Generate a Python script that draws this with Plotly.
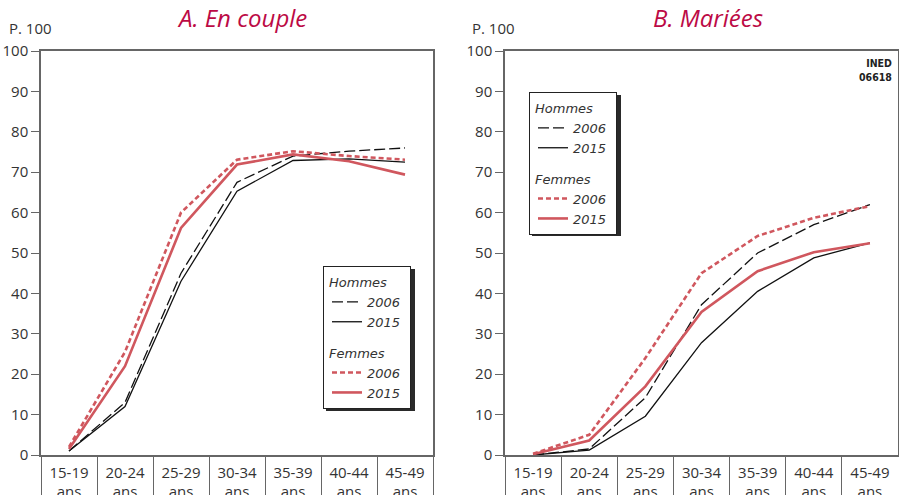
import plotly.graph_objects as go

# Age groups (x categories)
categories = ["15-19<br>ans", "20-24<br>ans", "25-29<br>ans", "30-34<br>ans",
              "35-39<br>ans", "40-44<br>ans", "45-49<br>ans"]

# A. En couple (p. 100)
couple_hommes_2006 = [1, 13, 45, 67.5, 74, 75.2, 76]
couple_hommes_2015 = [1, 12, 43, 65.3, 72.9, 73.3, 72.5]
couple_femmes_2006 = [2, 25.5, 60, 73.1, 75.2, 74, 73.1]
couple_femmes_2015 = [1.5, 22, 56.2, 71.9, 74.4, 72.7, 69.4]

# B. Mariées (p. 100)
maries_hommes_2006 = [0, 1.5, 14.2, 37.2, 50, 57, 62]
maries_hommes_2015 = [0, 1.2, 9.6, 27.8, 40.5, 48.8, 52.5]
maries_femmes_2006 = [0.3, 5, 24, 45, 54.2, 58.7, 61.6]
maries_femmes_2015 = [0.2, 3.6, 17, 35.4, 45.5, 50.2, 52.4]

W, H = 899, 495


def sx(x):
    return x / W


def sy(y):
    return 1 - y / H


FONT = "Open Sans, Noto Sans, sans-serif"
TXT = "#333333"
AXIS = "#666666"
RED = "#d0575e"
TITLE_RED = "#bc0a45"

LEG_FONT = dict(family="DejaVu Sans, sans-serif", size=13, color=TXT, style="italic")
NB = "\u00a0"

fig = go.Figure()


def add_panel(xa, ya, legend, h06, h15, f06, f15):
    fig.add_trace(go.Scatter(
        x=categories, y=h06, mode="lines", name="2006" + NB,
        line=dict(color="#111111", width=1.3, dash="11px,4px"),
        legendgroup="h" + legend,
        legendgrouptitle=dict(text="Hommes", font=LEG_FONT),
        xaxis=xa, yaxis=ya, legend=legend, hoverinfo="skip"))
    fig.add_trace(go.Scatter(
        x=categories, y=h15, mode="lines", name="2015" + NB,
        line=dict(color="#111111", width=1.3),
        legendgroup="h" + legend,
        xaxis=xa, yaxis=ya, legend=legend, hoverinfo="skip"))
    fig.add_trace(go.Scatter(
        x=categories, y=f06, mode="lines", name="2006" + NB,
        line=dict(color=RED, width=2.6, dash="5px,3px"),
        legendgroup="f" + legend,
        legendgrouptitle=dict(text="Femmes", font=LEG_FONT),
        xaxis=xa, yaxis=ya, legend=legend, hoverinfo="skip"))
    fig.add_trace(go.Scatter(
        x=categories, y=f15, mode="lines", name="2015" + NB,
        line=dict(color=RED, width=2.6),
        legendgroup="f" + legend,
        xaxis=xa, yaxis=ya, legend=legend, hoverinfo="skip"))


add_panel("x", "y", "legend", couple_hommes_2006, couple_hommes_2015,
          couple_femmes_2006, couple_femmes_2015)
add_panel("x2", "y2", "legend2", maries_hommes_2006, maries_hommes_2015,
          maries_femmes_2006, maries_femmes_2015)

ydom = [sy(455), sy(51)]


def xaxis_def(domain, anchor):
    return dict(domain=domain, anchor=anchor, type="category", range=[-0.5, 6.5],
                showline=True, linecolor=AXIS, linewidth=1.5, mirror=True,
                ticks="outside", tickson="boundaries", ticklen=45,
                tickcolor=AXIS, tickwidth=1.3, ticklabelstandoff=3,
                tickfont=dict(family=FONT, size=15, color=TXT),
                showgrid=False, zeroline=False, fixedrange=True, automargin=False)


def yaxis_def(anchor):
    return dict(domain=ydom, anchor=anchor, range=[0, 100], dtick=10,
                showline=True, linecolor=AXIS, linewidth=1.5, mirror=True,
                ticks="outside", ticklen=8, tickcolor=AXIS, tickwidth=1.3,
                tickfont=dict(family=FONT, size=15, color=TXT),
                showgrid=False, zeroline=False, fixedrange=True, automargin=False)


def yaxis_right(overlay, anchor):
    return dict(overlaying=overlay, anchor=anchor, side="right", range=[0, 100],
                dtick=10, ticks="inside", ticklen=8, tickcolor=AXIS, tickwidth=1.3,
                showticklabels=False, showline=False, showgrid=False,
                zeroline=False, fixedrange=True, automargin=False)


def legend_def(x, y):
    return dict(x=sx(x), y=sy(y), xanchor="left", yanchor="top",
                bgcolor="white", bordercolor="#222222", borderwidth=1,
                font=LEG_FONT, grouptitlefont=LEG_FONT, indentation=3,
                traceorder="grouped", tracegroupgap=11, itemwidth=30)


fig.update_layout(
    width=W, height=H,
    margin=dict(l=0, r=0, t=0, b=0, autoexpand=False),
    paper_bgcolor="white", plot_bgcolor="white",
    showlegend=True, hovermode=False,
    xaxis=xaxis_def([sx(41), sx(433)], "y"),
    yaxis=yaxis_def("x"),
    xaxis2=xaxis_def([sx(505), sx(898)], "y2"),
    yaxis2=yaxis_def("x2"),
    yaxis3=yaxis_right("y", "x"),
    yaxis4=yaxis_right("y2", "x2"),
    legend=legend_def(323, 266),
    legend2=legend_def(529, 92),
)

# legend drop shadows
for (x0, y0, x1, y1) in [(323, 266, 412, 408), (529, 92, 618, 233)]:
    fig.add_shape(type="rect", xref="paper", yref="paper",
                  x0=sx(x0 + 3), x1=sx(x1 + 3), y0=sy(y1 + 3), y1=sy(y0 + 3),
                  fillcolor="#2a2a2a", line=dict(width=0), layer="above")

annotations = [
    dict(text="A. En couple", x=sx(242), y=sy(17),
         font=dict(family=FONT, size=24, color=TITLE_RED, style="italic")),
    dict(text="B. Mariées", x=sx(708), y=sy(17),
         font=dict(family=FONT, size=24, color=TITLE_RED, style="italic")),
    dict(text="P. 100", x=sx(7), y=sy(28), xanchor="left",
         font=dict(family=FONT, size=15, color=TXT)),
    dict(text="P. 100", x=sx(470), y=sy(28), xanchor="left",
         font=dict(family=FONT, size=15, color=TXT)),
    dict(text="INED<br>06618", x=sx(894), y=sy(70), xanchor="right",
         align="right",
         font=dict(family="DejaVu Sans Condensed, Liberation Sans Narrow, sans-serif",
                   size=10.5, color="#222222", weight=600)),
]
for a in annotations:
    a.update(xref="paper", yref="paper", showarrow=False)
    a.setdefault("xanchor", "center")
    a.setdefault("yanchor", "middle")
fig.update_layout(annotations=annotations)

fig.write_html("out.html", config={"displayModeBar": False},
               post_script="document.body.style.margin = '0px';")
